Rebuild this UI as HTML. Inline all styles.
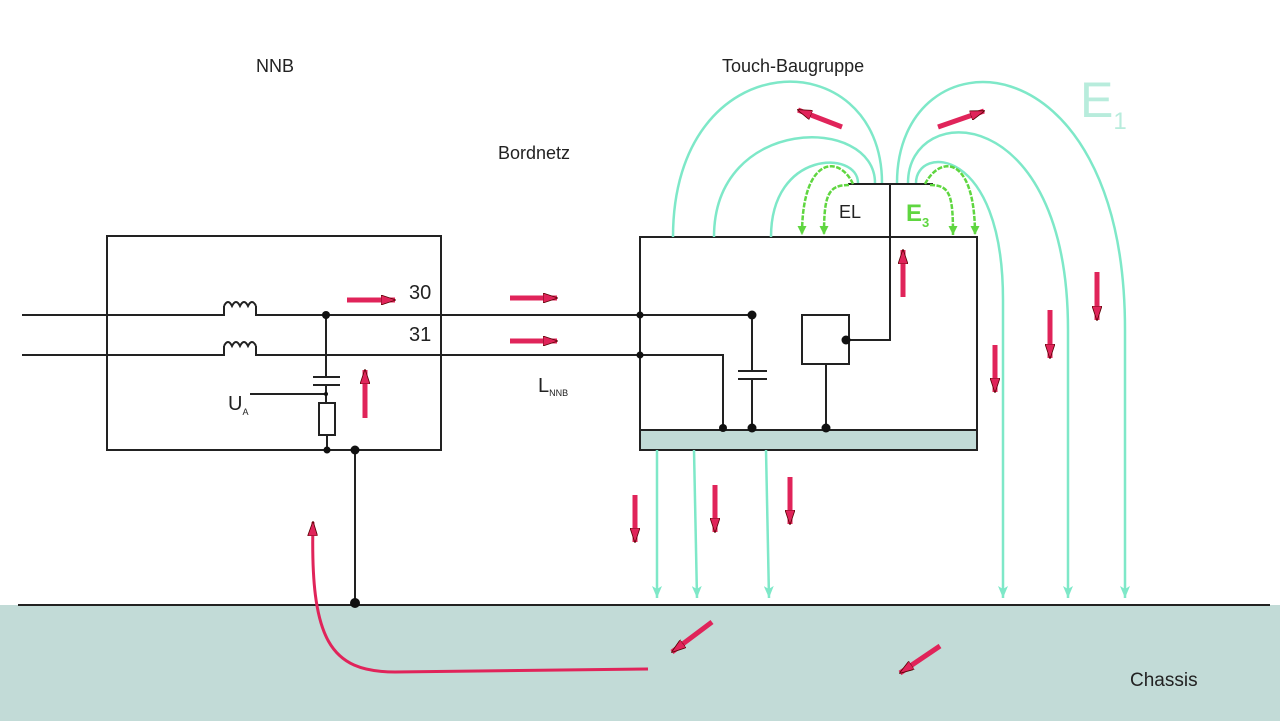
<!DOCTYPE html>
<html><head><meta charset="utf-8"><style>
html,body{margin:0;padding:0;background:#fff;}
svg{display:block;}
text{font-family:"Liberation Sans",sans-serif;}
</style></head><body>
<svg width="1280" height="721" viewBox="0 0 1280 721" xmlns="http://www.w3.org/2000/svg">
<defs>
<marker id="ga" viewBox="0 0 12 10" refX="12" refY="5" markerWidth="12" markerHeight="10" orient="auto" markerUnits="userSpaceOnUse"><path d="M0,0 L12,5 L0,10 L3,5 z" fill="#7ee8c8"/></marker>
<marker id="gg" viewBox="0 0 10 10" refX="10" refY="5" markerWidth="9" markerHeight="9" orient="auto" markerUnits="userSpaceOnUse"><path d="M0,0 L10,5 L0,10 z" fill="#5fd640"/></marker>
<marker id="rh" viewBox="0 0 15 10" refX="14" refY="5" markerWidth="15" markerHeight="10" orient="auto" markerUnits="userSpaceOnUse"><path d="M0,0 L15,5 L0,10 z" fill="#e0245a" stroke="#500" stroke-width="0.8"/></marker>
</defs>
<rect x="0" y="605" width="1280" height="116" fill="#c2dbd7"/>
<line x1="18" y1="605" x2="1270" y2="605" stroke="#222" stroke-width="2"/>

<rect x="107" y="236" width="334" height="214" fill="none" stroke="#222" stroke-width="2"/>
<g stroke="#222" stroke-width="2" fill="none">
<path d="M22,315 H224 V306 M256,306 V315 H640"/>
<path d="M224,306 q4,-8 8,0 q4,-8 8,0 q4,-8 8,0 q4,-8 8,0"/>
<path d="M22,355 H224 V346 M256,346 V355 H640"/>
<path d="M224,346 q4,-8 8,0 q4,-8 8,0 q4,-8 8,0 q4,-8 8,0"/>
<path d="M326,315 V377 M313,377 H340 M313,385 H340 M326,385 V403"/>
<path d="M250,394 H326"/>
<rect x="319" y="403" width="16" height="32"/>
<path d="M327,435 V450 M355,450 V604"/>
</g>
<g fill="#111">
<circle cx="326" cy="315" r="4"/><circle cx="326" cy="394" r="2"/>
<circle cx="327" cy="450" r="3.5"/><circle cx="355" cy="450" r="4.5"/><circle cx="355" cy="603" r="5"/>
</g>

<rect x="640" y="430" width="337" height="20" fill="#c2dbd7"/>
<rect x="640" y="237" width="337" height="213" fill="none" stroke="#222" stroke-width="2"/>
<g stroke="#222" stroke-width="2" fill="none">
<path d="M640,430 H977"/>
<path d="M640,315 H752 V371 M738,371 H767 M738,379 H767 M752,379 V428"/>
<path d="M640,355 H723 V428"/>
<rect x="802" y="315" width="47" height="49"/>
<path d="M826,364 V428 M846,340 H890 V184 M848,184 H933"/>
</g>
<g fill="#111">
<circle cx="640" cy="315" r="3.5"/><circle cx="640" cy="355" r="3.5"/><circle cx="752" cy="315" r="4.5"/>
<circle cx="723" cy="428" r="4"/><circle cx="752" cy="428" r="4.5"/><circle cx="826" cy="428" r="4.5"/><circle cx="846" cy="340" r="4.5"/>
</g>

<g stroke="#7ee8c8" stroke-width="2.5" fill="none">
<path d="M673,237 C673,40 882,40 882,183"/>
<path d="M714,237 C714,115 875,115 875,183"/>
<path d="M771,237 C771,150 858,150 858,183"/>
<path d="M897,183 C897,30 1125,30 1125,330 L1125,598" marker-end="url(#ga)"/>
<path d="M908,183 C908,100 1068,100 1068,330 L1068,598" marker-end="url(#ga)"/>
<path d="M916,183 C916,145 1003,145 1003,300 L1003,598" marker-end="url(#ga)"/>
<path d="M657,450 L657,598" marker-end="url(#ga)"/>
<path d="M694,450 L697,598" marker-end="url(#ga)"/>
<path d="M766,450 L769,598" marker-end="url(#ga)"/>
</g>
<g stroke="#5fd640" stroke-width="2.5" fill="none" stroke-dasharray="5,1.5">
<path d="M853,184 C840,155 802,155 802,235" marker-end="url(#gg)"/>
<path d="M849,185 C828,185 824,195 824,235" marker-end="url(#gg)"/>
<path d="M925,184 C940,155 975,155 975,235" marker-end="url(#gg)"/>
<path d="M930,185 C950,185 953,195 953,235" marker-end="url(#gg)"/>
</g>

<g stroke="#e0245a" stroke-width="5" fill="none" marker-end="url(#rh)">
<path d="M347,300 L395,300"/>
<path d="M510,298 L557,298"/>
<path d="M510,341 L557,341"/>
<path d="M365,418 L365,370"/>
<path d="M903,297 L903,250"/>
<path d="M995,345 L995,392"/>
<path d="M1050,310 L1050,358"/>
<path d="M1097,272 L1097,320"/>
<path d="M635,495 L635,542"/>
<path d="M715,485 L715,532"/>
<path d="M790,477 L790,524"/>
<path d="M842,127 L798,110"/>
<path d="M938,127 L984,111"/>
<path d="M712,622 L672,652"/>
<path d="M940,646 L900,673"/>
</g>
<path d="M648,669 L395,672 C330,672 310,640 313,522" stroke="#e0245a" stroke-width="3" fill="none" marker-end="url(#rh)"/>

<g fill="#222" font-size="18">
<text x="256" y="72">NNB</text>
<text x="722" y="72">Touch-Baugruppe</text>
<text x="498" y="159">Bordnetz</text>
<text x="409" y="299" font-size="20">30</text>
<text x="409" y="341" font-size="20">31</text>
<text x="228" y="410" font-size="20">U<tspan font-size="9" dy="5">A</tspan></text>
<text x="538" y="392" font-size="20">L<tspan font-size="9" dy="4">NNB</tspan></text>
<text x="839" y="218">EL</text>
<text x="1130" y="686" font-size="19">Chassis</text>
</g>
<text x="906" y="221" font-size="24" font-weight="bold" fill="#5fd640">E<tspan font-size="13" dy="6">3</tspan></text>
<text x="1080" y="117" font-size="50" fill="#b8ecdc">E<tspan font-size="24" dy="12">1</tspan></text>
</svg>
</body></html>
